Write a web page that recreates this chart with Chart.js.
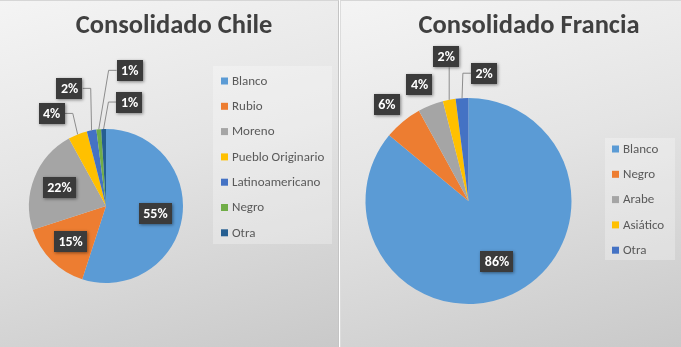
<!DOCTYPE html>
<html>
<head>
<meta charset="utf-8">
<script src="https://cdn.jsdelivr.net/npm/chart.js@4.4.1/dist/chart.umd.min.js"></script>
<style>
  html, body { margin: 0; padding: 0; background: #ffffff; }
  body { width: 681px; height: 347px; position: relative; overflow: hidden; }
  .panel { position: absolute; top: 0; height: 347px; box-sizing: border-box;
    background: linear-gradient(165deg, #f4f4f4 0%, #e4e4e4 45%, #c9c9c9 100%);
    border-top: 1px solid #d6d6d6; }
  #p1 { left: 0; width: 339px; border-right: 1px solid #c4c4c4; }
  #p2 { left: 340px; width: 341px; border-left: 1px solid #dcdcdc; }
  canvas { position: absolute; left: 0; top: 0; }
</style>
</head>
<body>
<div class="panel" id="p1"><canvas id="c1" width="338" height="347"></canvas></div>
<div class="panel" id="p2"><canvas id="c2" width="340" height="347"></canvas></div>
<script>
// ---- Data ----
const chileTitle = "Consolidado Chile";
const chileCategories = ["Blanco", "Rubio", "Moreno", "Pueblo Originario", "Latinoamericano", "Negro", "Otra"];
const chileValues = [55, 15, 22, 4, 2, 1, 1];

const franciaTitle = "Consolidado Francia";
const franciaCategories = ["Blanco", "Negro", "Arabe", "Asiático", "Otra"];
const franciaValues = [86, 6, 4, 2, 2];

// ---- Styles ----
const chileColors = ["#5B9BD5", "#ED7D31", "#A5A5A5", "#FFC000", "#4472C4", "#70AD47", "#255E91"];
const franciaColors = ["#5B9BD5", "#ED7D31", "#A5A5A5", "#FFC000", "#4472C4"];
const FONT = "Carlito, Calibri, Lato, 'Open Sans', sans-serif";

// label offsets (relative to slice outer edge midpoint) and leader flags
const chileLabelStyle = [null, null, null,
  {dx: -26, dy: -21, leader: true}, {dx: -22, dy: -42, leader: true},
  {dx: 31, dy: -59, leader: true}, {dx: 26, dy: -27, leader: true}];
const franciaLabelStyle = [null,
  {dx: -16, dy: -17, leader: false}, {dx: -11, dy: -21, leader: false},
  {dx: -3, dy: -43, leader: true}, {dx: 22, dy: -25, leader: true}];

function makePlugin(cfg) {
  return {
    id: 'decor',
    afterDatasetsDraw(chart) {
      const ctx = chart.ctx;
      const meta = chart.getDatasetMeta(0);
      const data = chart.data.datasets[0].data;
      const total = data.reduce((a, b) => a + b, 0);
      ctx.save();
      // data labels
      ctx.font = "bold 14px " + FONT;
      meta.data.forEach((arc, i) => {
        const p = arc.getProps(['x', 'y', 'startAngle', 'endAngle', 'outerRadius'], true);
        const mid = (p.startAngle + p.endAngle) / 2;
        const txt = Math.round(data[i] / total * 100) + '%';
        const tw = ctx.measureText(txt).width;
        const w = tw + 9, h = 21;
        const st = cfg.labelStyle[i];
        let cx, cy, ox, oy;
        ox = p.x + Math.cos(mid) * p.outerRadius;
        oy = p.y + Math.sin(mid) * p.outerRadius;
        if (st) { cx = ox + st.dx; cy = oy + st.dy; }
        else { cx = p.x + Math.cos(mid) * p.outerRadius * 0.65; cy = p.y + Math.sin(mid) * p.outerRadius * 0.65; }
        if (st && st.leader) {
          ctx.strokeStyle = "#8c8c8c"; ctx.lineWidth = 1;
          ctx.beginPath();
          const l = cx - w / 2, r = cx + w / 2;
          if (ox > l && ox < r) {
            ctx.moveTo(ox, oy); ctx.lineTo(ox, cy + h / 2);
          } else {
            const edge = ox < cx ? l : r;
            const sgn = ox < cx ? -1 : 1;
            const ex = edge + sgn * Math.min(8, Math.abs(ox - edge));
            ctx.moveTo(ox, oy); ctx.lineTo(ex, cy); ctx.lineTo(edge, cy);
          }
          ctx.stroke();
        }
        ctx.save();
        ctx.shadowColor = "rgba(0,0,0,0.45)"; ctx.shadowBlur = 3; ctx.shadowOffsetX = 1; ctx.shadowOffsetY = 1;
        ctx.fillStyle = "#3b3b3b";
        ctx.fillRect(Math.round(cx - w / 2), Math.round(cy - h / 2), Math.round(w), h);
        ctx.restore();
        ctx.fillStyle = "#ffffff"; ctx.textAlign = "center"; ctx.textBaseline = "middle";
        ctx.fillText(txt, cx, cy + 1);
      });
      // title
      ctx.fillStyle = "#404040";
      ctx.font = "bold " + cfg.titleSize + "px " + FONT;
      ctx.textAlign = "center"; ctx.textBaseline = "alphabetic";
      ctx.fillText(cfg.title, cfg.titleX, cfg.titleY);
      // legend
      const lg = cfg.legend;
      ctx.fillStyle = "rgba(255,255,255,0.28)";
      ctx.fillRect(lg.bx, lg.by, lg.bw, lg.bh);
      ctx.font = "13px " + FONT;
      ctx.textAlign = "left"; ctx.textBaseline = "middle";
      chart.data.labels.forEach((lab, i) => {
        const y = lg.y0 + i * lg.step;
        ctx.fillStyle = chart.data.datasets[0].backgroundColor[i];
        ctx.fillRect(lg.mx, y - 3.5, 7, 7);
        ctx.fillStyle = "#595959";
        ctx.fillText(lab, lg.tx, y + 0.5);
      });
      ctx.restore();
    }
  };
}

function makeChart(id, labels, values, colors, padding, cfg) {
  return new Chart(document.getElementById(id), {
    type: 'pie',
    data: { labels: labels, datasets: [{ data: values, backgroundColor: colors, borderWidth: 0 }] },
    options: {
      responsive: false, animation: false,
      layout: { padding: padding },
      plugins: { legend: { display: false }, tooltip: { enabled: false }, title: { display: false } }
    },
    plugins: [makePlugin(cfg)]
  });
}

makeChart('c1', chileCategories, chileValues, chileColors,
  { left: 29, right: 155, top: 128, bottom: 65 },
  { title: chileTitle, titleX: 174, titleY: 32, titleSize: 26.5, labelStyle: chileLabelStyle,
    legend: { bx: 213, by: 65, bw: 119, bh: 178, mx: 221, tx: 232, y0: 80, step: 25.3 } });

makeChart('c2', franciaCategories, franciaValues, franciaColors,
  { left: 24, right: 109, top: 97, bottom: 44 },
  { title: franciaTitle, titleX: 188, titleY: 32, titleSize: 26.5, labelStyle: franciaLabelStyle,
    legend: { bx: 264, by: 137, bw: 70, bh: 122, mx: 271, tx: 282, y0: 148, step: 25.3 } });
</script>
</body>
</html>
